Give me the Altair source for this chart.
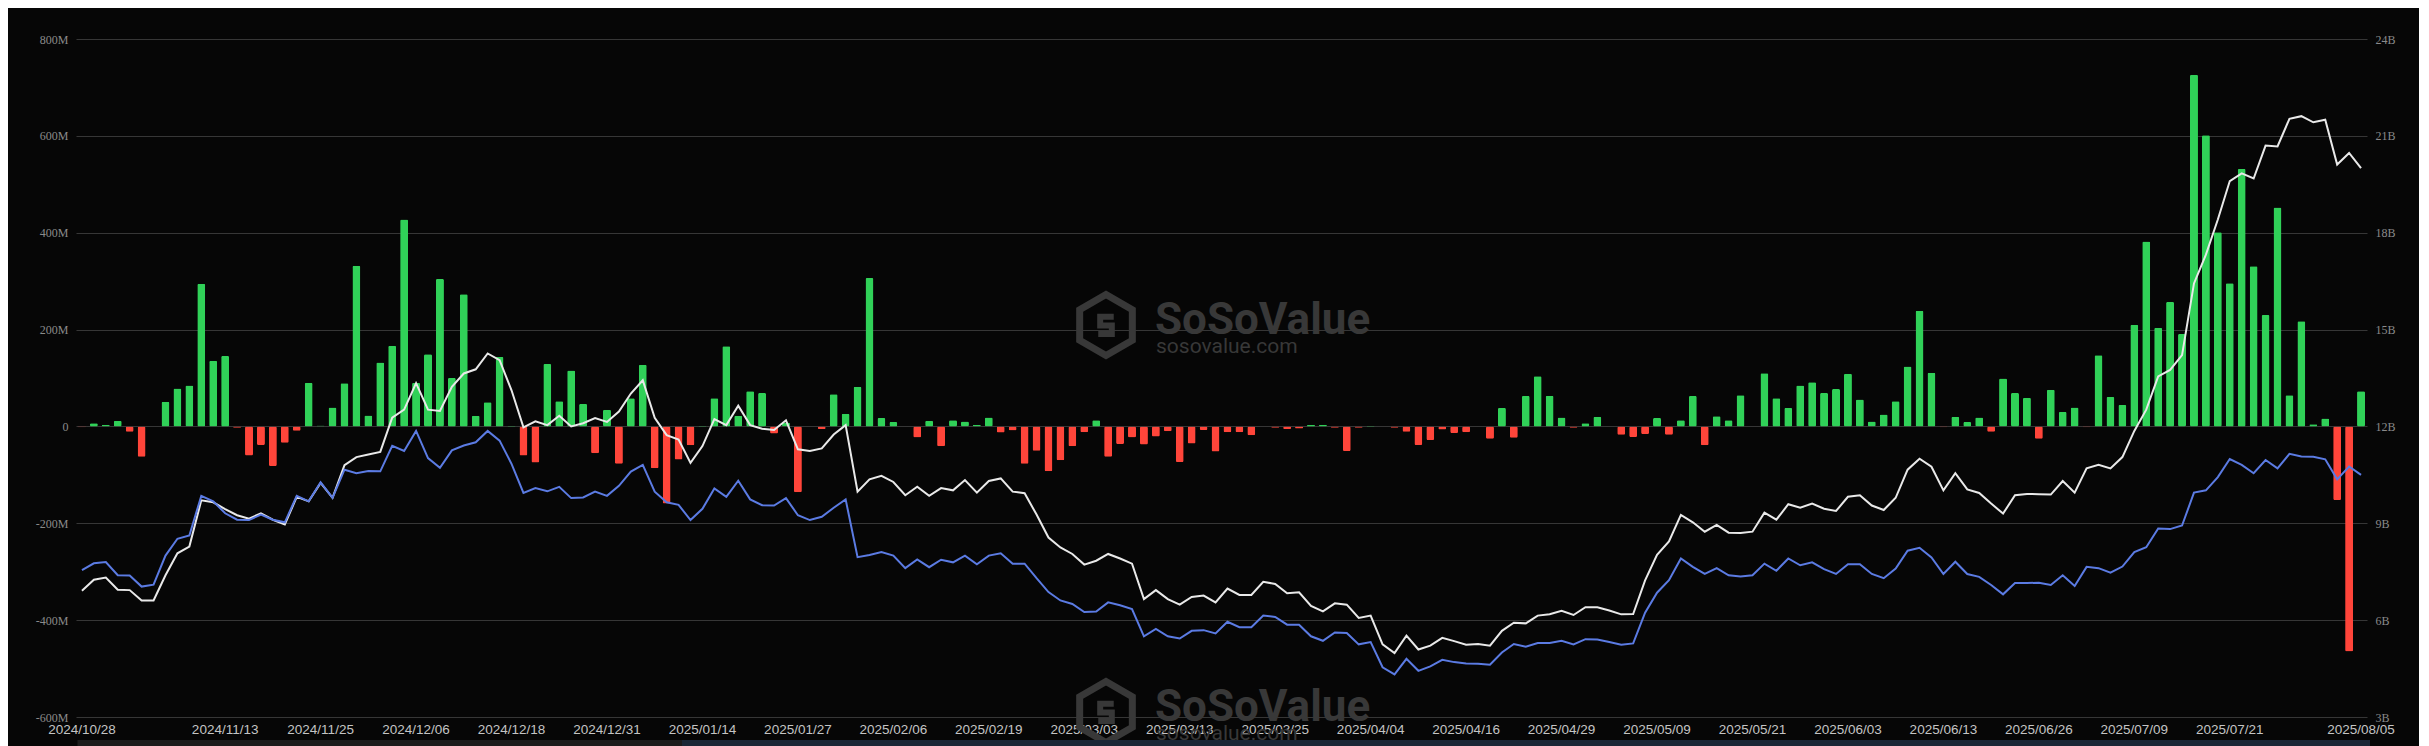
import altair as alt
import pandas as pd

# ---- calendar (US trading days shown on the category axis) ----
holidays = ["2024-11-28", "2024-12-25", "2025-01-01", "2025-01-09", "2025-01-20",
            "2025-02-17", "2025-04-18", "2025-05-26", "2025-06-19", "2025-07-04"]
dates = [d.strftime("%Y/%m/%d") for d in pd.bdate_range("2024-10-28", "2025-08-05")
         if d.strftime("%Y-%m-%d") not in holidays]

tick_labels = ["2024/10/28", "2024/11/13", "2024/11/25", "2024/12/06", "2024/12/18",
               "2024/12/31", "2025/01/14", "2025/01/27", "2025/02/06", "2025/02/19",
               "2025/03/03", "2025/03/13", "2025/03/25", "2025/04/04", "2025/04/16",
               "2025/04/29", "2025/05/09", "2025/05/21", "2025/06/03", "2025/06/13",
               "2025/06/26", "2025/07/09", "2025/07/21", "2025/08/05"]

# daily net inflow, millions USD (left axis)
net_inflow_m = [
    -1.5, 6.4, 3.6, 11.8, -10.9, -62.7, 0, 50.9, 78.2, 84.5,
    294.5, 135.4, 145.4, -2.7, -60, -38.2, -81.8, -33.6, -9.1, 90,
    1.8, 39, 89, 331.8, 22.7, 131.8, 166.4, 427.3, 90, 149,
    304.5, 100, 272.7, 21.8, 50, 143.6, 1, -60, -74.5, 129,
    51.8, 115.5, 46.4, -55.5, 34.5, -77.3, 58.2, 127.3, -86.4, -159,
    -68.2, -39, 1, 58.2, 165.5, 21.8, 72.7, 69, -14.5, 8,
    -136, 0, -5.5, 66.4, 26.4, 81.8, 306.4, 17.3, 9.1, 0,
    -22.7, 11.8, -40.9, 12.7, 10, 3.6, 18.2, -12.7, -8.2, -77.3,
    -50, -92.7, -70, -40.9, -11.8, 12.7, -62.7, -36.4, -22.7, -37.3,
    -20.9, -10, -73.6, -35.5, -7.3, -51.8, -11.8, -11.8, -18.2, 0,
    -2.7, -5.5, -4.5, 2.7, 3.6, -2.7, -50.9, -2.7, 1, 0,
    -2.7, -10.9, -38.2, -28.2, -6.4, -13.6, -11.8, 0, -25.5, 38.2,
    -23.6, 62.7, 103.6, 63.6, 18.2, -2.7, 6.4, 20, 0, -17.3,
    -21.8, -15.5, 17.3, -17.3, 12.7, 62.7, -39, 20.9, 12.7, 64.5,
    0, 110, 58.2, 38.2, 84.5, 91, 69, 77.3, 109, 55.5,
    10, 24.5, 51.8, 123.6, 239, 111, -1.8, 20, 9.1, 18.2,
    -10.9, 99, 69, 59, -25.5, 75.5, 30, 39, -1.8, 147,
    61, 44.5, 210, 381.8, 203.6, 257, 191, 726, 601, 401,
    295.5, 531.8, 331, 230, 452, 64.5, 217, 4.5, 16.4, -151.8,
    -464.5, 72.7,
]

# white line, billions USD (right axis)
white_line_b = [
    6.91, 7.25, 7.32, 6.94, 6.93, 6.61, 6.61, 7.39, 8.07, 8.28,
    9.71, 9.65, 9.44, 9.25, 9.14, 9.31, 9.11, 8.96, 9.82, 9.68,
    10.25, 9.79, 10.80, 11.05, 11.13, 11.21, 12.27, 12.52, 13.34, 12.52,
    12.48, 13.23, 13.64, 13.77, 14.26, 14.05, 13.12, 11.97, 12.16, 12.04,
    12.33, 12.00, 12.10, 12.26, 12.14, 12.46, 13.02, 13.43, 12.27, 11.73,
    11.59, 10.87, 11.39, 12.23, 12.04, 12.64, 12.04, 11.93, 11.89, 12.19,
    11.29, 11.24, 11.32, 11.75, 12.04, 9.98, 10.36, 10.47, 10.28, 9.87,
    10.13, 9.85, 10.09, 10.02, 10.34, 9.95, 10.31, 10.39, 9.98, 9.93,
    9.27, 8.56, 8.25, 8.05, 7.72, 7.84, 8.05, 7.91, 7.75, 6.65,
    6.93, 6.65, 6.48, 6.72, 6.76, 6.55, 6.98, 6.78, 6.78, 7.19,
    7.12, 6.83, 6.86, 6.44, 6.27, 6.52, 6.48, 6.07, 6.14, 5.25,
    4.98, 5.52, 5.09, 5.21, 5.45, 5.35, 5.24, 5.26, 5.21, 5.67,
    5.92, 5.90, 6.14, 6.18, 6.29, 6.16, 6.40, 6.40, 6.30, 6.18,
    6.19, 7.23, 8.02, 8.44, 9.26, 9.03, 8.74, 8.95, 8.71, 8.70,
    8.74, 9.33, 9.11, 9.59, 9.48, 9.61, 9.45, 9.38, 9.82, 9.87,
    9.55, 9.41, 9.79, 10.66, 11.00, 10.75, 10.02, 10.55, 10.05, 9.94,
    9.61, 9.30, 9.87, 9.91, 9.90, 9.89, 10.31, 9.95, 10.70, 10.81,
    10.70, 11.05, 11.86, 12.52, 13.55, 13.75, 14.21, 16.43, 17.32, 18.41,
    19.60, 19.84, 19.68, 20.70, 20.67, 21.53, 21.61, 21.42, 21.50, 20.11,
    20.47, 20.00,
]

# blue line, billions USD (right axis)
blue_line_b = [
    7.55, 7.76, 7.80, 7.39, 7.38, 7.04, 7.10, 8.00, 8.52, 8.62,
    9.85, 9.68, 9.31, 9.11, 9.10, 9.27, 9.11, 9.03, 9.85, 9.68,
    10.27, 9.79, 10.66, 10.55, 10.62, 10.61, 11.40, 11.24, 11.86, 11.02,
    10.72, 11.26, 11.41, 11.51, 11.86, 11.56, 10.84, 9.94, 10.09, 9.99,
    10.13, 9.78, 9.80, 9.98, 9.85, 10.16, 10.60, 10.81, 9.98, 9.65,
    9.57, 9.10, 9.45, 10.08, 9.82, 10.32, 9.74, 9.56, 9.55, 9.78,
    9.25, 9.10, 9.20, 9.48, 9.74, 7.95, 8.02, 8.11, 8.00, 7.61,
    7.88, 7.64, 7.87, 7.79, 8.00, 7.73, 8.00, 8.07, 7.75, 7.75,
    7.30, 6.87, 6.61, 6.50, 6.25, 6.27, 6.55, 6.46, 6.34, 5.50,
    5.73, 5.50, 5.43, 5.67, 5.69, 5.59, 5.95, 5.78, 5.78, 6.14,
    6.10, 5.86, 5.86, 5.50, 5.36, 5.62, 5.60, 5.25, 5.32, 4.54,
    4.32, 4.80, 4.43, 4.57, 4.77, 4.70, 4.66, 4.65, 4.62, 5.00,
    5.26, 5.18, 5.29, 5.29, 5.36, 5.25, 5.41, 5.40, 5.32, 5.24,
    5.28, 6.23, 6.85, 7.24, 7.91, 7.65, 7.43, 7.61, 7.39, 7.35,
    7.39, 7.75, 7.53, 7.91, 7.70, 7.79, 7.58, 7.43, 7.73, 7.73,
    7.43, 7.30, 7.60, 8.15, 8.24, 7.94, 7.43, 7.81, 7.43, 7.34,
    7.09, 6.80, 7.15, 7.15, 7.16, 7.09, 7.39, 7.06, 7.65, 7.61,
    7.47, 7.66, 8.11, 8.26, 8.84, 8.82, 8.93, 9.95, 10.02, 10.43,
    10.99, 10.81, 10.55, 10.96, 10.70, 11.15, 11.07, 11.06, 10.98, 10.36,
    10.76, 10.50,
]

assert len(dates) == len(net_inflow_m) == len(white_line_b) == len(blue_line_b), (
    len(dates), len(net_inflow_m), len(white_line_b), len(blue_line_b))

df = pd.DataFrame({"date": dates, "inflow": net_inflow_m,
                   "white": white_line_b, "blue": blue_line_b})

BG = "#060606"
GREEN = "#30D158"
RED = "#FF453A"
GRID = "#363636"
AXIS_LABEL = "#8a8a8a"
W, H = 2291, 678

x_enc = alt.X(
    "date:O", sort=dates, title=None,
    scale=alt.Scale(paddingInner=0.33, paddingOuter=0.165),
    axis=alt.Axis(values=tick_labels, labelAngle=0, labelOverlap=False,
                  labelFont="Liberation Sans", labelFontSize=13.5,
                  labelColor="#c4c4c4", labelPadding=5,
                  domain=False, ticks=False, grid=False),
)

bars = alt.Chart(df).mark_bar(size=8, cornerRadius=1.5).encode(
    x=x_enc,
    y=alt.Y("inflow:Q", title=None,
            scale=alt.Scale(domain=[-600, 800], nice=False),
            axis=alt.Axis(orient="left", values=list(range(-600, 801, 200)),
                          labelExpr="datum.value == 0 ? '0' : datum.value + 'M'",
                          labelFont="Liberation Serif", labelFontSize=12,
                          labelColor=AXIS_LABEL, labelPadding=8,
                          domain=False, ticks=False, grid=True,
                          gridColor=GRID, gridWidth=1)),
    color=alt.condition("datum.inflow >= 0", alt.value(GREEN), alt.value(RED)),
)

white = alt.Chart(df).mark_line(color="#e9e9e9", strokeWidth=2).encode(
    x=x_enc,
    y=alt.Y("white:Q", title=None,
            scale=alt.Scale(domain=[3, 24], nice=False, zero=False),
            axis=alt.Axis(orient="right", values=list(range(3, 25, 3)),
                          labelExpr="datum.value + 'B'",
                          labelFont="Liberation Serif", labelFontSize=12,
                          labelColor=AXIS_LABEL, labelPadding=8,
                          domain=False, ticks=False, grid=False)),
)

blue = alt.Chart(df).mark_line(color="#5B7BE3", strokeWidth=2).encode(
    x=x_enc,
    y=alt.Y("blue:Q", title=None,
            scale=alt.Scale(domain=[3, 24], nice=False, zero=False),
            axis=None),
)

one = pd.DataFrame({"t": ["SoSoValue"], "u": ["sosovalue.com"]})
WM = "#383838"
HEX = "M0,-1L0.866,-0.5L0.866,0.5L0,1L-0.866,0.5L-0.866,-0.5Z"
INNER = "M0.4,-0.42L-0.3,-0.42L-0.3,0.02L0.3,0.02L0.3,0.46L-0.4,0.46"


def watermark(dy):
    logo = alt.Chart(one).mark_point(shape=HEX, filled=False, strokeWidth=7,
                                     color=WM, opacity=1, clip=False).encode(
        x=alt.value(1030), y=alt.value(286 + dy), size=alt.value(3700))
    inner = alt.Chart(one).mark_point(shape=INNER, filled=False, strokeWidth=6,
                                      color=WM, opacity=1, clip=False).encode(
        x=alt.value(1030), y=alt.value(286 + dy), size=alt.value(1500))
    big = alt.Chart(one).mark_text(font="Roboto", fontWeight="bold", fontSize=44,
                                   color=WM, align="left", baseline="alphabetic",
                                   clip=False).encode(
        text="t:N", x=alt.value(1079), y=alt.value(295 + dy))
    small = alt.Chart(one).mark_text(font="Roboto", fontSize=21, color=WM,
                                     align="left", baseline="alphabetic",
                                     clip=False).encode(
        text="u:N", x=alt.value(1080), y=alt.value(314 + dy))
    return [logo, inner, big, small]


strip_left = alt.Chart(one).mark_rect(color="#1c1c1c", clip=False).encode(
    x=alt.value(1.5), x2=alt.value(606), y=alt.value(701), y2=alt.value(730))
strip_right = alt.Chart(one).mark_rect(color="#1a2736", clip=False).encode(
    x=alt.value(606), x2=alt.value(2294), y=alt.value(701), y2=alt.value(730))

chart = alt.layer(
    *watermark(0), *watermark(387), strip_left, strip_right, bars, white, blue
).resolve_scale(y="independent").properties(
    width=W, height=H,
    background=BG,
    padding={"left": 68, "top": 31, "right": 52, "bottom": 29},
    autosize=alt.AutoSizeParams(type="none"),
).configure_view(stroke=None)

chart.save("out.html", embed_options={"renderer": "svg", "actions": False})
